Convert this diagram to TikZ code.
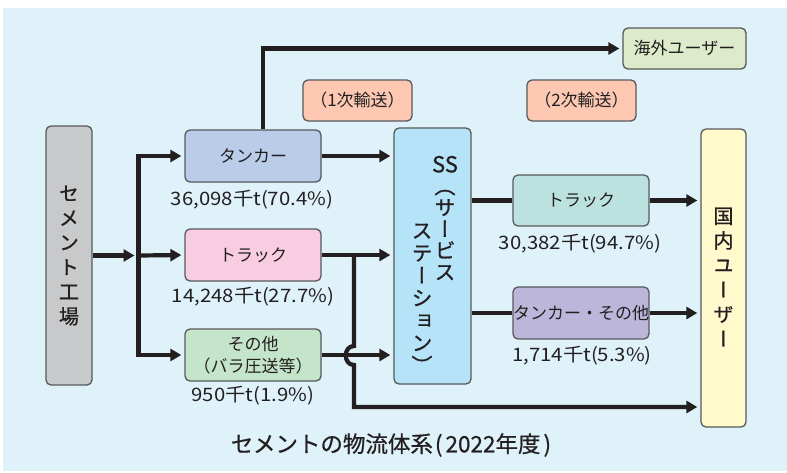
\documentclass[tikz,border=0pt]{standalone}
\usepackage{fontspec}
\newfontfamily\jp{Noto Sans CJK JP}
\newfontfamily\jpn[FakeStretch=1.1]{Noto Sans CJK JP}
\newfontfamily\jpv[RawFeature=+vert,FakeBold=0.8]{Noto Sans CJK JP}
\newfontfamily\jpt[FakeBold=0.6]{Noto Sans CJK JP}
\usetikzlibrary{arrows.meta}
\definecolor{bgc}{HTML}{DFF2FA}
\definecolor{txt}{HTML}{231F20}
\definecolor{bord}{HTML}{58595B}
\definecolor{cfact}{HTML}{C8C9CA}
\definecolor{ctank}{HTML}{B9CDE9}
\definecolor{cpink}{HTML}{F8CCE1}
\definecolor{cgreen}{HTML}{C5E5CB}
\definecolor{csalm}{HTML}{FCC8B2}
\definecolor{ckai}{HTML}{DEEBCB}
\definecolor{css}{HTML}{B5E3F8}
\definecolor{cteal}{HTML}{BCE2DF}
\definecolor{cpurp}{HTML}{BBB6DA}
\definecolor{ckoku}{HTML}{FFF9CC}
\tikzset{
  box/.style={draw=bord, line width=1.3pt, rounded corners=5pt, inner sep=0pt, text=txt,
    font=\jp\fontsize{17}{22}\selectfont, align=center},
  lbl/.style={text=txt, inner sep=0pt, font=\jpn\fontsize{18.5}{20}\selectfont},
  vtxt/.style={text=txt, inner sep=0pt, align=center},
  conn/.style={draw=txt, line width=4.2pt},
  arr/.style={conn, -{Triangle[length=11pt,width=12pt]}, shorten >=3pt},
}
\begin{document}
\begin{tikzpicture}[x=1pt,y=-1pt]
\useasboundingbox (0,0) rectangle (787,472);
\fill[bgc] (3,8) rectangle (787,471);
% boxes
\node[box, fill=cfact, minimum width=46pt, minimum height=259pt] (fact) at (69,255.5) {};
\node[box, fill=ctank, minimum width=136pt, minimum height=52pt] (tank) at (253,156) {タンカー};
\node[box, fill=cpink, minimum width=136pt, minimum height=52pt] (truck) at (253,255) {トラック};
\node[box, fill=cgreen, minimum width=136pt, minimum height=52pt] (other) at (253,355) {その他\\（バラ圧送等）};
\node[box, fill=csalm, minimum width=109pt, minimum height=41pt] (first) at (357.5,100.5) {（1次輸送）};
\node[box, fill=csalm, minimum width=109pt, minimum height=41pt] (second) at (581.5,100.5) {（2次輸送）};
\node[box, fill=ckai, minimum width=123pt, minimum height=41pt] (kaigai) at (684.5,48.5) {海外ユーザー};
\node[box, fill=css, minimum width=77pt, minimum height=256pt] (ss) at (432.5,256) {};
\node[box, fill=cteal, minimum width=136pt, minimum height=51pt] (truck2) at (581,200.5) {トラック};
\node[box, fill=cpurp, minimum width=136pt, minimum height=52pt] (tank2) at (581,313) {タンカー・その他};
\node[box, fill=ckoku, minimum width=45pt, minimum height=298pt] (koku) at (723.5,278) {};
% vertical texts
\node[vtxt, font=\jpv\fontsize{20}{24.6}\selectfont] (facttxt) at (fact.center) {セ\\メ\\ン\\ト\\工\\場};
\node[vtxt, font=\jpv\fontsize{20}{24.6}\selectfont] (kokutxt) at (723.5,277) {国\\内\\ユ\\ー\\ザ\\ー};
\node[vtxt, font=\jpv\fontsize{21}{21.5}\selectfont] (sscol1) at (445,218) {{\fontsize{22}{21.5}\selectfont SS}\\（\\サ\\ー\\ビ\\ス};
\node[vtxt, font=\jpv\fontsize{21}{22.5}\selectfont] (sscol2) at (422,298.5) {ス\\テ\\ー\\シ\\ョ\\ン\\）};
% amounts
\node[lbl] (l1) at (252,199.5) {36,098千t(70.4\%)};
\node[lbl] (l2) at (253,297) {14,248千t(27.7\%)};
\node[lbl] (l3) at (253,396) {950千t(1.9\%)};
\node[lbl] (l4) at (580,244) {30,382千t(94.7\%)};
\node[lbl] (l5) at (582,356) {1,714千t(5.3\%)};
% title
\node[text=txt, inner sep=0pt, font=\jpt\fontsize{22.5}{24}\selectfont] (title) at (391,445) {セメントの物流体系\kern2pt(\kern3pt 2022年度\kern3pt)};
% connectors
\coordinate (jmid) at (138.5,255.5);
\draw[arr, shorten >=4pt] (fact.east) -- (jmid);
\draw[arr] (jmid) |- (tank.west);
\draw[arr] (jmid) -- (truck.west);
\draw[arr] (jmid) |- (other.west);
\draw[arr] ([xshift=10pt]tank.north) |- (kaigai.west);
\draw[arr] (tank.east) -- (tank.east -| ss.west);
\draw[arr] (truck.east) -- (truck.east -| ss.west);
\draw[arr] (other.east) -- (other.east -| ss.west);
\coordinate (b1) at (354,255);
\coordinate (b2) at (354,346);
\coordinate (b3) at (354,365);
\coordinate (low) at (354,407);
\draw[arr] (b1) -- (b2) .. controls (343,346) and (343,365) .. (b3) -- (low) -- (low -| koku.west);
\draw[conn] (ss.east |- truck2.west) -- (truck2.west);
\draw[arr] (truck2.east) -- (truck2.east -| koku.west);
\draw[conn] (ss.east |- tank2.west) -- (tank2.west);
\draw[arr] (tank2.east) -- (tank2.east -| koku.west);
\end{tikzpicture}
\end{document}
